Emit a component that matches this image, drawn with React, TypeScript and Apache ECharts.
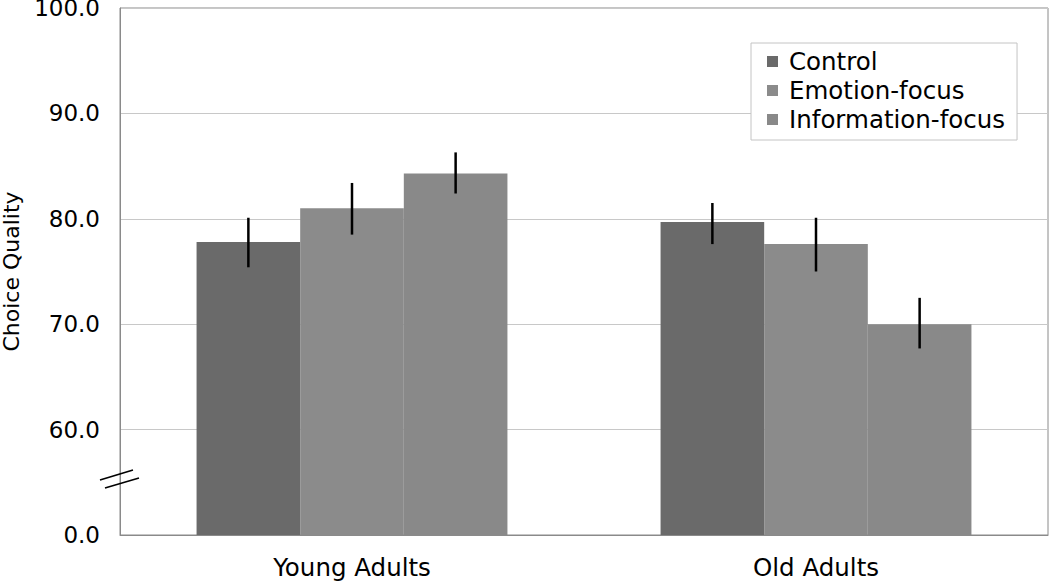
import React, { useEffect, useRef } from "react";
import * as echarts from "echarts";

const categories = ["Young Adults", "Old Adults"];
const seriesNames = ["Control", "Emotion-focus", "Information-focus"];
const controlValues = [77.8, 79.7];
const emotionValues = [81.0, 77.6];
const infoValues = [84.3, 70.0];
const controlErr = [[75.4, 80.1], [77.6, 81.5]];
const emotionErr = [[78.5, 83.4], [75.0, 80.1]];
const infoErr = [[82.4, 86.3], [67.7, 72.5]];
const colors = ["#6a6a6a", "#8b8b8b", "#898989"];

const FONT = "DejaVu Sans, Verdana, sans-serif";
const FS = 23;
const FS_BIG = 24.5;

export default function App() {
  const ref = useRef<HTMLDivElement>(null);
  useEffect(() => {
    if (!ref.current) return;
    const chart = echarts.init(ref.current, null, { renderer: "svg" });
    const values = [controlValues, emotionValues, infoValues];
    const errs = [controlErr, emotionErr, infoErr];
    const errData: number[][] = [];
    errs.forEach((e, si) =>
      e.forEach((pair, ci) => errData.push([ci, si, pair[0], pair[1]]))
    );
    const gapRatio = 0.33;
    chart.setOption({
      animation: false,
      grid: {
        left: 120, right: 2, top: 8, bottom: 46,
        outerBoundsMode: "none",
        containLabel: false,
        show: true, borderColor: "#8a8a8a", borderWidth: 1,
      },
      legend: {
        orient: "vertical",
        left: 751,
        top: 43,
        padding: [6, 12, 8, 16],
        itemGap: 4,
        itemWidth: 11,
        itemHeight: 11,
        icon: "rect",
        backgroundColor: "#fff",
        borderColor: "#c4c4c4",
        borderWidth: 1,
        textStyle: { fontFamily: FONT, fontSize: FS_BIG, lineHeight: 25, color: "#000", padding: [0, 0, 0, 6] },
        data: seriesNames,
      },
      xAxis: {
        type: "category",
        data: categories,
        axisLine: { lineStyle: { color: "#8a8a8a", width: 1 } },
        axisTick: { length: 7, lineStyle: { color: "#8a8a8a" } },
        axisLabel: { fontFamily: FONT, fontSize: FS_BIG, color: "#000", margin: 20 },
      },
      yAxis: {
        type: "value",
        min: 50,
        max: 100,
        interval: 10,
        name: "Choice Quality",
        nameLocation: "middle",
        nameGap: 98,
        nameTextStyle: { fontFamily: FONT, fontSize: FS - 1, color: "#000" },
        axisLine: { show: true, lineStyle: { color: "#8a8a8a" } },
        axisTick: { show: false },
        splitLine: { lineStyle: { color: "#c8c8c8" } },
        axisLabel: {
          fontFamily: FONT,
          fontSize: FS,
          color: "#000",
          margin: 20,
          formatter: (v: number) => (v === 50 ? "0.0" : v.toFixed(1)),
        },
      },
      series: [
        ...seriesNames.map((name, i) => ({
          name,
          type: "bar",
          data: values[i],
          barGap: "0%",
          barCategoryGap: "33%",
          itemStyle: { color: colors[i] },
        })),
        {
          type: "custom",
          data: errData,
          z: 10,
          renderItem: (params: any, api: any) => {
            const ci = api.value(0);
            const si = api.value(1);
            const band = api.size([1, 0])[0];
            const bw = (band * (1 - gapRatio)) / 3;
            const lo = api.coord([ci, api.value(2)]);
            const hi = api.coord([ci, api.value(3)]);
            const x = lo[0] + (si - 1) * bw;
            return {
              type: "line",
              shape: { x1: x, y1: lo[1], x2: x, y2: hi[1] },
              style: { stroke: "#000", lineWidth: 2.5 },
            };
          },
        },
      ],
      graphic: [
        { type: "line", shape: { x1: 100, y1: 480, x2: 133, y2: 470 }, style: { stroke: "#000", lineWidth: 1.6 }, z: 100 },
        { type: "line", shape: { x1: 105, y1: 488, x2: 139, y2: 478 }, style: { stroke: "#000", lineWidth: 1.6 }, z: 100 },
      ],
    });
    return () => chart.dispose();
  }, []);
  return (
    <div
      ref={ref}
      style={{ position: "fixed", left: 0, top: 0, width: 1050, height: 581, background: "#fff" }}
    />
  );
}
